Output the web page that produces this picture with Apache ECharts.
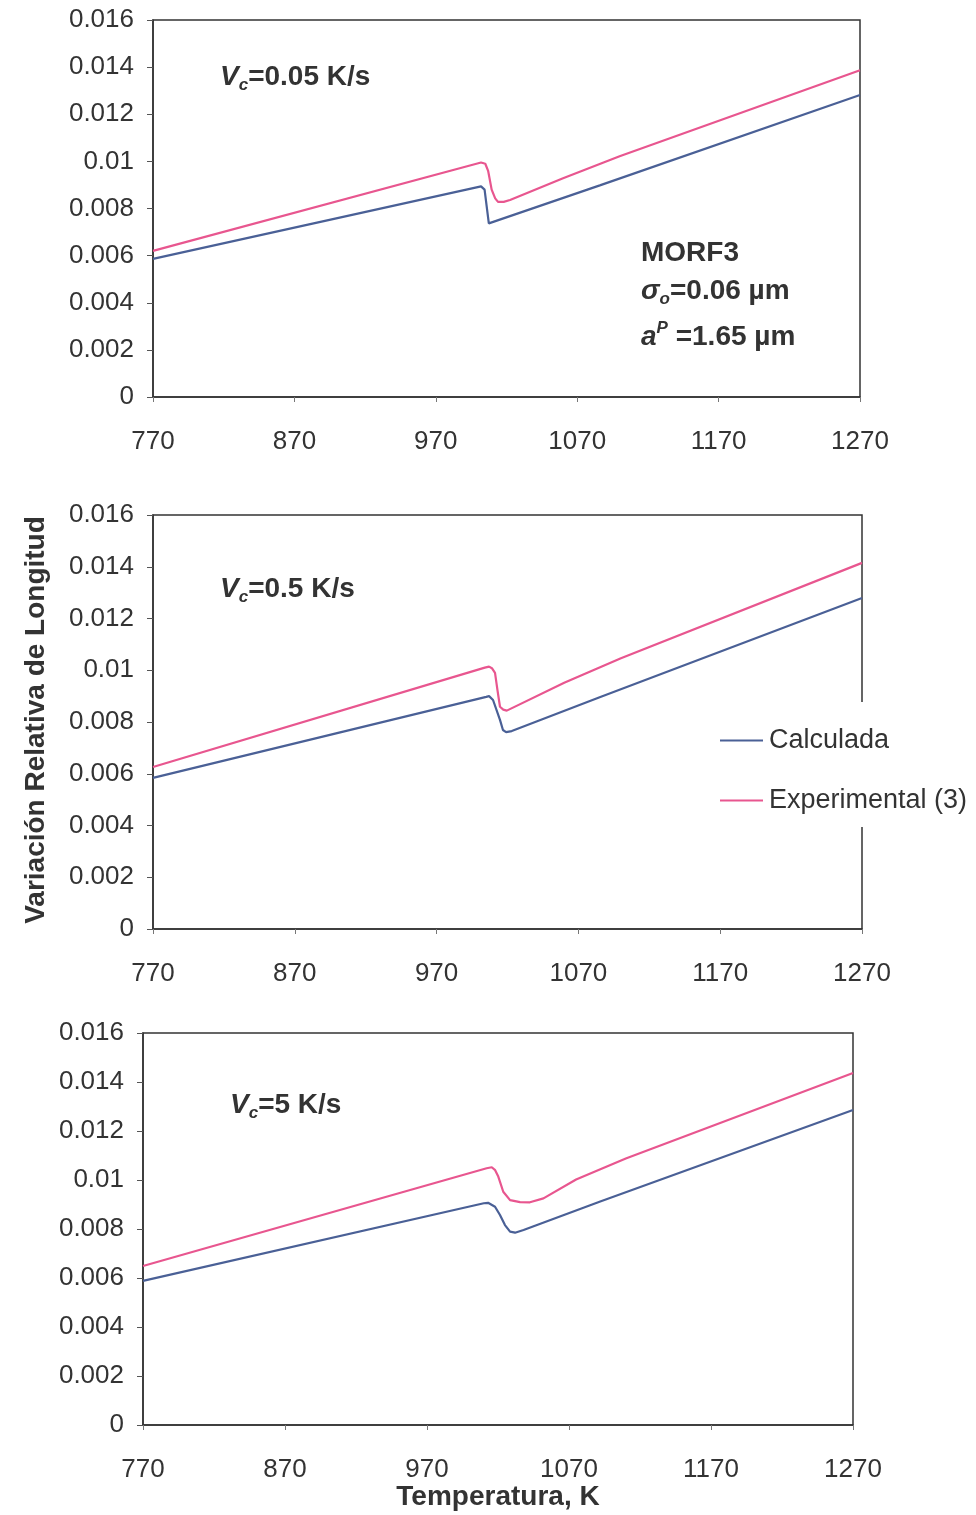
<!DOCTYPE html>
<html>
<head>
<meta charset="utf-8">
<script src="https://cdn.jsdelivr.net/npm/echarts@6/dist/echarts.min.js"></script>
<style>html,body{margin:0;padding:0;background:#fff;}#c{width:976px;height:1515px;}</style>
</head>
<body>
<div id="c"></div>
<script>
// ---- data (temperature K, relative length change) ----
var xTicks = [770, 870, 970, 1070, 1170, 1270];
var calc1 = [[770,0.00586],[1002,0.00894],[1004.5,0.0088],[1007.5,0.00737],[1086,0.00898],[1270,0.01282]];
var exp1  = [[770,0.0062],[1002,0.00995],[1005,0.0099],[1007,0.0096],[1009.5,0.0088],[1012,0.00843],[1014,0.00828],[1018,0.00828],[1022.5,0.00836],[1060,0.00928],[1100,0.01022],[1270,0.01387]];
var calc2 = [[770,0.00584],[1005,0.00897],[1007,0.009],[1009.8,0.00885],[1014.7,0.00808],[1016.8,0.00769],[1019,0.00761],[1023,0.00765],[1085,0.00896],[1270,0.01279]];
var exp2  = [[770,0.00626],[1004,0.0101],[1007,0.01014],[1009,0.01008],[1011.2,0.0099],[1013,0.0092],[1014.7,0.00859],[1017,0.00848],[1019.5,0.00844],[1060,0.00952],[1100,0.01046],[1270,0.01415]];
var calc3 = [[770,0.00588],[1010,0.00905],[1013,0.00907],[1017.9,0.00891],[1021.4,0.00857],[1024.9,0.00816],[1028.5,0.00789],[1032,0.00785],[1038,0.00796],[1092,0.00912],[1270,0.01286]];
var exp3  = [[770,0.00649],[1012,0.01048],[1015.6,0.01052],[1018,0.0104],[1020.2,0.01014],[1023.7,0.00952],[1028.5,0.00918],[1035.5,0.0091],[1042.5,0.00909],[1052,0.00925],[1075,0.01002],[1110,0.01088],[1270,0.01437]];
var seriesNames = ['Calculada', 'Experimental (3)'];
var panelLabels = ['0.05', '0.5', '5'];

var FONT = 'Liberation Sans, Arial, sans-serif';
var TXT = '#333';
var BLUE = '#4a6096', PINK = '#e8568f';

var grids = [
  {left:153, right:116, top:20, height:377},
  {left:153, right:114, top:515, height:414},
  {left:143, right:123, top:1033, height:392}
];
grids.forEach(function(g){ g.show = true; g.borderColor = '#333'; g.borderWidth = 1.5; g.backgroundColor = 'transparent'; });

var xAxes = [], yAxes = [];
for (var i = 0; i < 3; i++) {
  xAxes.push({
    type:'value', gridIndex:i, min:770, max:1270,
    axisLine:{show:true, lineStyle:{color:'#333', width:1.5}},
    axisTick:{show:true, length:5, customValues:xTicks, lineStyle:{color:'#777'}},
    axisLabel:{customValues:xTicks, fontSize:26, fontFamily:FONT, color:TXT, margin:32,
      formatter:function(v){ return String(v); }},
    splitLine:{show:false}
  });
  yAxes.push({
    type:'value', gridIndex:i, min:0, max:0.016, interval:0.002,
    axisLine:{show:true, lineStyle:{color:'#333', width:1.5}},
    axisTick:{show:true, length:6, lineStyle:{color:'#555'}},
    axisLabel:{fontSize:26, fontFamily:FONT, color:TXT, margin:19,
      formatter:function(v){ return String(parseFloat(v.toFixed(3))); }},
    splitLine:{show:false}
  });
}

function mk(name, data, idx, color){
  return {name:name, type:'line', xAxisIndex:idx, yAxisIndex:idx, data:data,
    showSymbol:false, symbol:'none', lineStyle:{color:color, width:2.2}, itemStyle:{color:color}, z:3};
}
var series = [
  mk(seriesNames[0], calc1, 0, BLUE), mk(seriesNames[1], exp1, 0, PINK),
  mk(seriesNames[0], calc2, 1, BLUE), mk(seriesNames[1], exp2, 1, PINK),
  mk(seriesNames[0], calc3, 2, BLUE), mk(seriesNames[1], exp3, 2, PINK)
];

var rich = {
  v:{fontSize:28, fontWeight:'bold', fontStyle:'italic', fontFamily:FONT, color:TXT, lineHeight:34},
  s:{fontSize:17, fontWeight:'bold', fontStyle:'italic', fontFamily:FONT, color:TXT, verticalAlign:'bottom'},
  p:{fontSize:17, fontWeight:'bold', fontStyle:'italic', fontFamily:FONT, color:TXT, verticalAlign:'top'},
  t:{fontSize:28, fontWeight:'bold', fontFamily:FONT, color:TXT, lineHeight:34},
  u:{fontSize:28, fontFamily:FONT, color:TXT, lineHeight:34}
};
var titlePos = [[220,60],[220,572],[230,1088]];
var titles = panelLabels.map(function(l, i){
  return {text:'{v|V}{s|c}{t|=' + l + ' K/s}', left:titlePos[i][0], top:titlePos[i][1], padding:0,
    textStyle:{rich:rich}};
});
titles.push({text:'{t|MORF3}', left:641, top:236, padding:0, textStyle:{rich:rich}});
titles.push({text:'{v|\u03c3}{s|o}{t|=0.06 }{u|\u00b5m}', left:641, top:274, padding:0, textStyle:{rich:rich}});
titles.push({text:'{v|a}{p|P}{t| =1.65 }{u|\u00b5m}', left:641, top:320, padding:0, textStyle:{rich:rich}});

var option = {
  backgroundColor:'#fff',
  animation:false,
  title:titles,
  grid:grids, xAxis:xAxes, yAxis:yAxes, series:series,
  legend:{data:seriesNames, orient:'vertical', left:720, top:727, itemGap:33, z:10,
    icon:'rect', itemWidth:43, itemHeight:2, padding:0,
    textStyle:{fontSize:27, fontFamily:FONT, color:TXT, padding:[0,0,0,1]}},
  graphic:[
    {type:'rect', shape:{x:855, y:702, width:15, height:125}, style:{fill:'#fff'}, z:3},
    {type:'text', x:36, y:720, rotation:Math.PI/2, z:100,
      style:{text:'Variación Relativa de Longitud', font:'bold 28px ' + FONT, fill:TXT, align:'center', verticalAlign:'middle'}},
    {type:'text', x:498, y:1497, z:100,
      style:{text:'Temperatura, K', font:'bold 28px ' + FONT, fill:TXT, align:'center', verticalAlign:'middle'}}
  ]
};
var chart = echarts.init(document.getElementById('c'), null, {renderer:'canvas'});
chart.setOption(option);
</script>
</body>
</html>
